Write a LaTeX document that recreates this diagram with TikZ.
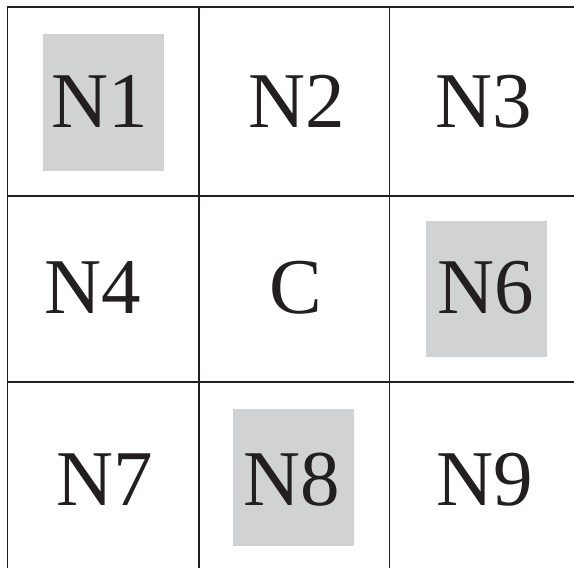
\documentclass[tikz,border=0pt]{standalone}
\usepackage{fontspec}
\setmainfont{Liberation Serif}
\definecolor{shade}{HTML}{D1D2D4}
\definecolor{ink}{HTML}{231F20}
\begin{document}
\begin{tikzpicture}[x=1pt,y=-1pt,
  gridline/.style={draw=ink,line width=1.2pt},
  boldline/.style={draw=ink,line width=1.7pt},
  shadebox/.style={fill=shade},
  lbl/.style={font=\fontsize{79}{79}\selectfont,text=ink,inner sep=0pt,anchor=base}]
\useasboundingbox (0,0) rectangle (574,568);
% shaded boxes
\fill[shadebox] (43,34) rectangle (164,171);
\fill[shadebox] (426,221) rectangle (547,357);
\fill[shadebox] (233,409) rectangle (354,546);
% grid
\draw[gridline] (7.5,7) -- (574,7);
\draw[gridline] (7.5,196) -- (574,196);
\draw[gridline] (7.5,382) -- (574,382);
\draw[gridline] (7.5,7) -- (7.5,568);
\draw[gridline] (199,7) -- (199,568);
\draw[gridline] (389.5,7) -- (389.5,568);
\draw[boldline] (7.5,196) -- (7.5,7) -- (199,7) -- (199,196) -- cycle;
% labels
\node[lbl] (n1) at (100,127) {N1};
\node[lbl] (n2) at (297,127) {N2};
\node[lbl] (n3) at (484,127) {N3};
\node[lbl] (n4) at (93,313) {N4};
\node[lbl] (c)  at (296,313) {C};
\node[lbl] (n6) at (486,313) {N6};
\node[lbl] (n7) at (105,505) {N7};
\node[lbl] (n8) at (292,505) {N8};
\node[lbl] (n9) at (485,505) {N9};
\end{tikzpicture}
\end{document}
